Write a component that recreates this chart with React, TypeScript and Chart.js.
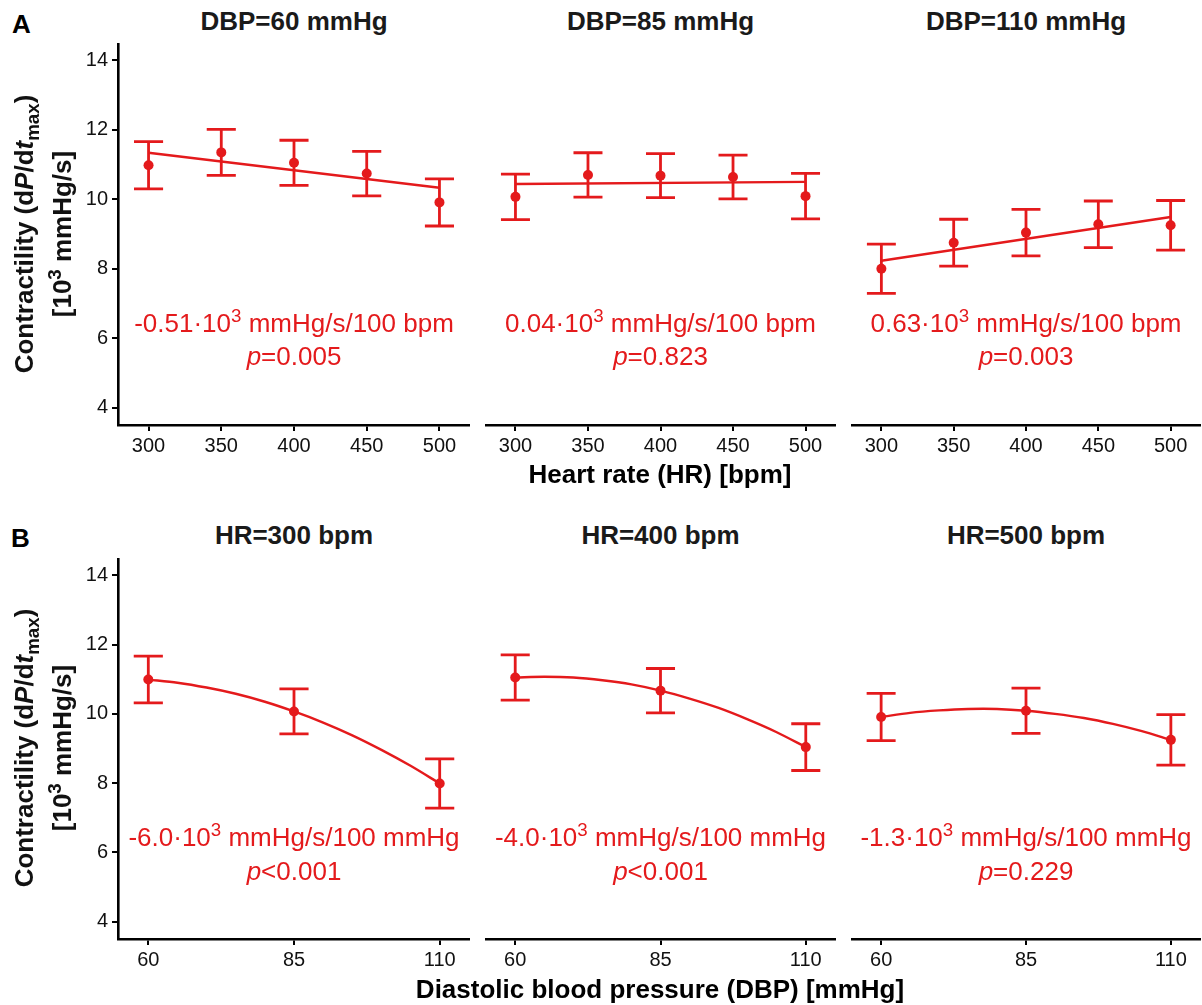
import React, { useEffect, useRef } from "react";
import { Chart, registerables } from "chart.js";

Chart.register(...registerables);

const RED = "#E41A1C";
const FONT = "'Liberation Sans', Arial, Helvetica, sans-serif";

// ---------- Row A: contractility vs heart rate ----------
const hrLevels = [300, 350, 400, 450, 500];
const hrTicks = [300, 350, 400, 450, 500];
const yTicks = [4, 6, 8, 10, 12, 14];

const dbp60Mean = [10.98, 11.35, 11.05, 10.74, 9.91];
const dbp60Err = [0.68, 0.66, 0.65, 0.64, 0.68];
const dbp85Mean = [10.07, 10.7, 10.68, 10.64, 10.09];
const dbp85Err = [0.655, 0.64, 0.635, 0.63, 0.655];
const dbp110Mean = [8.0, 8.75, 9.04, 9.28, 9.25];
const dbp110Err = [0.71, 0.675, 0.67, 0.67, 0.715];

const fitHrX = [300, 500];
const dbp60Fit = [11.34, 10.33];
const dbp85Fit = [10.44, 10.5];
const dbp110Fit = [8.23, 9.49];

const titlesA = ["DBP=60 mmHg", "DBP=85 mmHg", "DBP=110 mmHg"];
const slopesA = ["-0.51", "0.04", "0.63"];
const pValsA = ["=0.005", "=0.823", "=0.003"];

// ---------- Row B: contractility vs diastolic blood pressure ----------
const dbpLevels = [60, 85, 110];
const dbpTicks = [60, 85, 110];

const hr300Mean = [10.99, 10.07, 7.99];
const hr300Err = [0.675, 0.65, 0.71];
const hr400Mean = [11.05, 10.67, 9.04];
const hr400Err = [0.655, 0.64, 0.675];
const hr500Mean = [9.91, 10.09, 9.25];
const hr500Err = [0.68, 0.655, 0.73];

const fitDbpX = [60, 65, 70, 75, 80, 85, 90, 95, 100, 105, 110];
const hr300Fit = [10.99, 10.9, 10.76, 10.58, 10.35, 10.07, 9.75, 9.38, 8.96, 8.5, 7.99];
const hr400Fit = [11.05, 11.07, 11.05, 10.97, 10.85, 10.67, 10.44, 10.17, 9.84, 9.47, 9.04];
const hr500Fit = [9.91, 10.03, 10.1, 10.14, 10.14, 10.09, 10.0, 9.88, 9.71, 9.5, 9.25];

const titlesB = ["HR=300 bpm", "HR=400 bpm", "HR=500 bpm"];
const slopesB = ["-6.0", "-4.0", "-1.3"];
const pValsB = ["<0.001", "<0.001", "=0.229"];

// ---------- layout ----------
const plotLefts = [118, 485, 851];
const plotRights = [470, 836, 1201];
const rowTops = [43, 558];
const rowBottoms = [425, 939];
const Y_AXIS_W = 48;
const X_AXIS_H = 40;

type PanelProps = {
  left: number;
  top: number;
  right: number;
  bottom: number;
  showY: boolean;
  xMin: number;
  xMax: number;
  xTicks: number[];
  xs: number[];
  means: number[];
  errs: number[];
  capHalf: number;
  fitX: number[];
  fitY: number[];
  tension: number;
};

function Panel(p: PanelProps) {
  const ref = useRef<HTMLCanvasElement | null>(null);
  const canvasLeft = p.showY ? p.left - Y_AXIS_W : p.left;
  const width = p.right - canvasLeft;
  const height = p.bottom - p.top + X_AXIS_H;

  useEffect(() => {
    if (!ref.current) return;
    const errorBars = {
      id: "errorBars",
      beforeDatasetsDraw(chart: any) {
        const { ctx } = chart;
        const xs = chart.scales.x;
        const ys = chart.scales.y;
        ctx.save();
        ctx.strokeStyle = RED;
        ctx.lineWidth = 2.8;
        ctx.lineCap = "butt";
        p.xs.forEach((xv, i) => {
          const px = xs.getPixelForValue(xv);
          const l = xs.getPixelForValue(xv - p.capHalf);
          const r = xs.getPixelForValue(xv + p.capHalf);
          const hi = ys.getPixelForValue(p.means[i] + p.errs[i]);
          const lo = ys.getPixelForValue(p.means[i] - p.errs[i]);
          ctx.beginPath();
          ctx.moveTo(px, hi);
          ctx.lineTo(px, lo);
          ctx.moveTo(l, hi);
          ctx.lineTo(r, hi);
          ctx.moveTo(l, lo);
          ctx.lineTo(r, lo);
          ctx.stroke();
        });
        ctx.restore();
      },
    };

    const chart = new Chart(ref.current, {
      type: "scatter",
      data: {
        datasets: [
          {
            type: "line",
            data: p.fitX.map((x, i) => ({ x, y: p.fitY[i] })),
            borderColor: RED,
            borderWidth: 2.4,
            pointRadius: 0,
            tension: p.tension,
            fill: false,
          } as any,
          {
            type: "scatter",
            data: p.xs.map((x, i) => ({ x, y: p.means[i] })),
            backgroundColor: RED,
            borderColor: RED,
            borderWidth: 0,
            pointRadius: 5,
          } as any,
        ],
      },
      options: {
        responsive: false,
        maintainAspectRatio: false,
        animation: false,
        layout: { padding: 0, autoPadding: false },
        plugins: {
          legend: { display: false },
          tooltip: { enabled: false },
          title: { display: false },
        },
        scales: {
          x: {
            type: "linear",
            min: p.xMin,
            max: p.xMax,
            afterBuildTicks: (s: any) => {
              s.ticks = p.xTicks.map((v) => ({ value: v }));
            },
            afterFit: (s: any) => {
              s.height = X_AXIS_H;
              s.paddingLeft = 0;
              s.paddingRight = 0;
              s.paddingTop = 0;
              s.paddingBottom = 0;
            },
            grid: {
              drawOnChartArea: false,
              drawTicks: true,
              tickLength: 6,
              color: "#000",
              lineWidth: 2,
            },
            border: { display: true, color: "#000", width: 2.6 },
            ticks: {
              color: "#111",
              font: { family: FONT, size: 20 },
              padding: 3,
              maxRotation: 0,
              autoSkip: false,
              callback: (v: any) => String(v),
            },
          },
          y: {
            type: "linear",
            display: p.showY,
            min: 3.5,
            max: 14.5,
            afterBuildTicks: (s: any) => {
              s.ticks = yTicks.map((v) => ({ value: v }));
            },
            afterFit: (s: any) => {
              s.width = p.showY ? Y_AXIS_W : 0;
              s.paddingLeft = 0;
              s.paddingRight = 0;
              s.paddingTop = 0;
              s.paddingBottom = 0;
            },
            grid: {
              drawOnChartArea: false,
              drawTicks: true,
              tickLength: 6,
              color: "#000",
              lineWidth: 2,
            },
            border: { display: true, color: "#000", width: 2.6 },
            ticks: {
              color: "#111",
              font: { family: FONT, size: 20 },
              padding: 4,
              callback: (v: any) => String(v),
            },
          },
        },
      } as any,
      plugins: [errorBars],
    });
    return () => chart.destroy();
  }, []);

  return (
    <canvas
      ref={ref}
      width={width}
      height={height}
      style={{
        position: "absolute",
        left: canvasLeft,
        top: p.top,
        width,
        height,
      }}
    />
  );
}

function Txt(props: {
  x: number;
  baseline: number;
  size: number;
  bold?: boolean;
  color?: string;
  align?: "center" | "left";
  children: React.ReactNode;
}) {
  const { x, baseline, size, bold, color = "#111", align = "center" } = props;
  return (
    <div
      style={{
        position: "absolute",
        left: align === "center" ? x - 400 : x,
        width: align === "center" ? 800 : undefined,
        top: baseline - 0.8465 * size,
        fontSize: size,
        lineHeight: `${size}px`,
        height: size,
        fontFamily: FONT,
        fontWeight: bold ? 700 : 400,
        color,
        whiteSpace: "nowrap",
        textAlign: align,
      }}
    >
      {props.children}
    </div>
  );
}

function VTxt(props: { baselineX: number; cy: number; size: number; children: React.ReactNode }) {
  const { baselineX, cy, size } = props;
  const cx = baselineX - 0.3465 * size;
  return (
    <div
      style={{
        position: "absolute",
        left: cx - 250,
        top: cy - size / 2,
        width: 500,
        height: size,
        lineHeight: `${size}px`,
        fontSize: size,
        fontFamily: FONT,
        fontWeight: 700,
        color: "#111",
        whiteSpace: "nowrap",
        textAlign: "center",
        transform: "rotate(-90deg)",
      }}
    >
      {props.children}
    </div>
  );
}

const supStyle: React.CSSProperties = {
  fontSize: "0.72em",
  position: "relative",
  top: "-0.55em",
  lineHeight: 0,
};
const subStyle: React.CSSProperties = {
  fontSize: "0.72em",
  position: "relative",
  top: "0.3em",
  lineHeight: 0,
};

function YTitle({ cy }: { cy: number }) {
  return (
    <>
      <VTxt baselineX={33} cy={cy} size={26}>
        Contractility (d<i>P</i>/d<i>t</i>
        <span style={subStyle}>max</span>)
      </VTxt>
      <VTxt baselineX={71} cy={cy} size={26}>
        [10<span style={supStyle}>3</span> mmHg/s]
      </VTxt>
    </>
  );
}

export default function App() {
  const rowA = [
    { means: dbp60Mean, errs: dbp60Err, fit: dbp60Fit },
    { means: dbp85Mean, errs: dbp85Err, fit: dbp85Fit },
    { means: dbp110Mean, errs: dbp110Err, fit: dbp110Fit },
  ];
  const rowB = [
    { means: hr300Mean, errs: hr300Err, fit: hr300Fit },
    { means: hr400Mean, errs: hr400Err, fit: hr400Fit },
    { means: hr500Mean, errs: hr500Err, fit: hr500Fit },
  ];
  const centers = plotLefts.map((l, i) => (l + plotRights[i]) / 2);

  return (
    <div
      style={{
        position: "absolute",
        left: 0,
        top: 0,
        width: 1202,
        height: 1005,
        background: "#fff",
        overflow: "hidden",
      }}
    >
      {rowA.map((d, i) => (
        <Panel
          key={"a" + i}
          left={plotLefts[i]}
          right={plotRights[i]}
          top={rowTops[0]}
          bottom={rowBottoms[0]}
          showY={i === 0}
          xMin={279}
          xMax={521}
          xTicks={hrTicks}
          xs={hrLevels}
          means={d.means}
          errs={d.errs}
          capHalf={10}
          fitX={fitHrX}
          fitY={d.fit}
          tension={0}
        />
      ))}
      {rowB.map((d, i) => (
        <Panel
          key={"b" + i}
          left={plotLefts[i]}
          right={plotRights[i]}
          top={rowTops[1]}
          bottom={rowBottoms[1]}
          showY={i === 0}
          xMin={54.8}
          xMax={115.2}
          xTicks={dbpTicks}
          xs={dbpLevels}
          means={d.means}
          errs={d.errs}
          capHalf={2.5}
          fitX={fitDbpX}
          fitY={d.fit}
          tension={0.3}
        />
      ))}

      <Txt x={12} baseline={33} size={26} bold align="left" color="#000">A</Txt>
      <Txt x={11} baseline={547} size={26} bold align="left" color="#000">B</Txt>

      {titlesA.map((t, i) => (
        <Txt key={"ta" + i} x={centers[i]} baseline={30} size={26} bold color="#1a1a1a">
          {t}
        </Txt>
      ))}
      {titlesB.map((t, i) => (
        <Txt key={"tb" + i} x={centers[i]} baseline={544} size={26} bold color="#1a1a1a">
          {t}
        </Txt>
      ))}

      {slopesA.map((s, i) => (
        <React.Fragment key={"sa" + i}>
          <Txt x={centers[i]} baseline={332} size={26} color={RED}>
            {s}·10<span style={supStyle}>3</span> mmHg/s/100 bpm
          </Txt>
          <Txt x={centers[i]} baseline={365} size={26} color={RED}>
            <i>p</i>
            {pValsA[i]}
          </Txt>
        </React.Fragment>
      ))}
      {slopesB.map((s, i) => (
        <React.Fragment key={"sb" + i}>
          <Txt x={centers[i]} baseline={846} size={26} color={RED}>
            {s}·10<span style={supStyle}>3</span> mmHg/s/100 mmHg
          </Txt>
          <Txt x={centers[i]} baseline={880} size={26} color={RED}>
            <i>p</i>
            {pValsB[i]}
          </Txt>
        </React.Fragment>
      ))}

      <YTitle cy={234} />
      <YTitle cy={748} />

      <Txt x={660} baseline={483} size={26} bold color="#000">
        Heart rate (HR) [bpm]
      </Txt>
      <Txt x={660} baseline={998} size={26} bold color="#000">
        Diastolic blood pressure (DBP) [mmHg]
      </Txt>
    </div>
  );
}
